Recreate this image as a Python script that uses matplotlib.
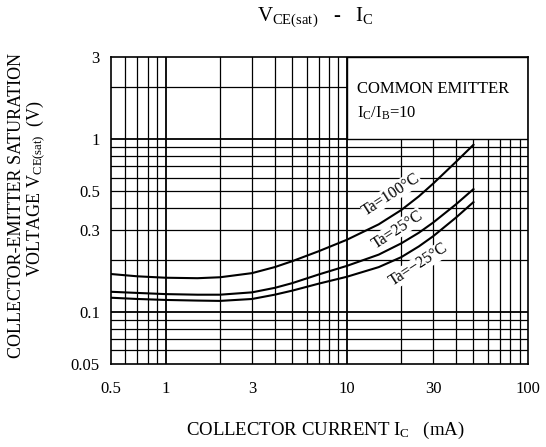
import numpy as np
import matplotlib
matplotlib.use("Agg")
import matplotlib.pyplot as plt
from matplotlib.patches import Rectangle

plt.rcParams['font.family'] = ['Liberation Serif', 'DejaVu Serif']
plt.rcParams['mathtext.fontset'] = 'custom'
plt.rcParams['mathtext.rm'] = 'Liberation Serif'
plt.rcParams['mathtext.it'] = 'Liberation Serif'
plt.rcParams['mathtext.bf'] = 'Liberation Serif'

# Data
ic_ma = [0.5, 0.7, 1, 1.5, 2, 3, 4, 5, 7, 10, 15, 20, 25, 30, 40, 50]
vce_100 = [0.166, 0.161, 0.158, 0.157, 0.159, 0.168, 0.182, 0.197, 0.225, 0.262,
           0.322, 0.39, 0.468, 0.555, 0.74, 0.93]
vce_25 = [0.131, 0.129, 0.127, 0.126, 0.126, 0.130, 0.138, 0.147, 0.165, 0.185,
          0.215, 0.25, 0.288, 0.330, 0.42, 0.515]
vce_m25 = [0.121, 0.119, 0.1175, 0.1165, 0.116, 0.119, 0.126, 0.133, 0.146, 0.160,
           0.182, 0.208, 0.24, 0.275, 0.352, 0.433]
curve_labels = ["Ta=100°C", "Ta=25°C", "Ta=\u221225°C"]

x_ticks = [0.5, 1, 3, 10, 30, 100]
x_ticklabels = ["0.5", "1", "3", "10", "30", "100"]
y_ticks = [0.05, 0.1, 0.3, 0.5, 1, 3]
y_ticklabels = ["0.05", "0.1", "0.3", "0.5", "1", "3"]

fig = plt.figure(figsize=(5.46, 4.47), dpi=100)
ax = fig.add_axes([111/546, 1-364/447, (528-111)/546, (364-57)/447])
ax.set_xscale('log')
ax.set_yscale('log')
ax.set_xlim(0.5, 100)
ax.set_ylim(0.05, 3)

# grid
xgrid = [v * d for d in (0.1, 1, 10) for v in range(1, 10)] + [100]
xgrid = [v for v in xgrid if 0.5 < v < 100]
ygrid = [v * d for d in (0.01, 0.1, 1) for v in range(1, 10)]
ygrid = [v for v in ygrid if 0.05 < v < 3]
for v in xgrid:
    ax.axvline(v, color='black', lw=1.3 if v in (1, 10) else 0.9, zorder=1)
for v in ygrid:
    ax.axhline(v, color='black', lw=1.3 if v in (0.1, 1) else 0.9, zorder=1)

# blank condition box
ax.add_patch(Rectangle((10, 1), 90, 2, facecolor='white', edgecolor='black',
                       lw=1.0, zorder=2))
ax.text(0.59, 0.896, "COMMON EMITTER", transform=ax.transAxes, fontsize=12,
        va='center', ha='left', zorder=3)
ax.text(0.59, 0.815, r"I$_\mathrm{C}$/I$_\mathrm{B}$=10", transform=ax.transAxes,
        fontsize=12, va='center', ha='left', zorder=3)

for ys in (vce_100, vce_25, vce_m25):
    ax.plot(ic_ma, ys, color='black', lw=1.5, zorder=6, solid_joinstyle='round')

lab_pos = [(17.5, 0.48), (19.0, 0.30), (25.0, 0.188)]
for (lx, ly), t in zip(lab_pos, curve_labels):
    ax.text(lx, ly, t, rotation=33, fontsize=11.5,
            ha='center', va='center', zorder=5,
            bbox=dict(facecolor='white', edgecolor='none', pad=0.3))

ax.set_xticks(x_ticks)
ax.set_xticklabels(x_ticklabels)
ax.set_yticks(y_ticks)
ax.set_yticklabels(y_ticklabels)
ax.xaxis.set_minor_locator(matplotlib.ticker.NullLocator())
ax.yaxis.set_minor_locator(matplotlib.ticker.NullLocator())
ax.tick_params(axis='both', length=0, labelsize=12)
ax.tick_params(axis='x', pad=12)
ax.tick_params(axis='y', pad=8)
for s in ax.spines.values():
    s.set_linewidth(1.2)

fig.text(0.577, 0.962, r"V$_\mathrm{CE(sat)}$   -   I$_\mathrm{C}$", fontsize=15,
         ha='center', va='center')
fig.text(0.595, 0.038, r"COLLECTOR CURRENT I$_\mathrm{C}$   (mA)", fontsize=13.5,
         ha='center', va='center')
fig.text(0.031, 0.541, "COLLECTOR-EMITTER SATURATION", fontsize=13,
         rotation=90, ha='center', va='center')
fig.text(0.066, 0.577, r"VOLTAGE V$_\mathrm{CE(sat)}$  (V)", fontsize=13,
         rotation=90, ha='center', va='center')

fig.savefig("out.png", dpi=100, facecolor='white')
